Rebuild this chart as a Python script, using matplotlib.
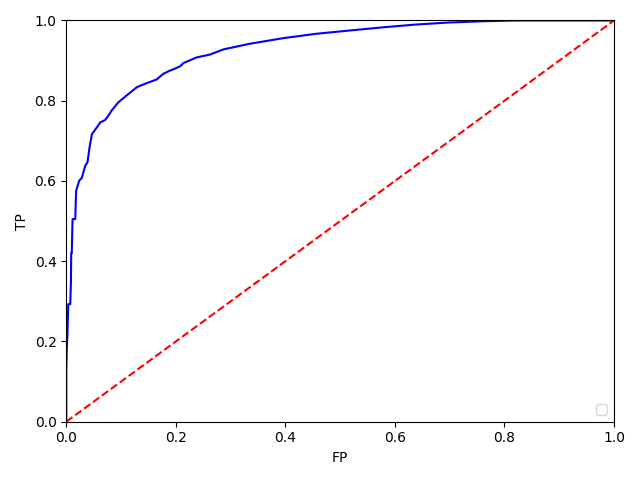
import matplotlib
matplotlib.use("Agg")
import matplotlib.pyplot as plt

fpr = [0.0, 0.0, 0.001, 0.002, 0.0036, 0.0073, 0.0085, 0.0090, 0.0100, 0.0115,
       0.0150, 0.0164, 0.0180, 0.0237, 0.0285, 0.0346, 0.0388, 0.0425, 0.0468,
       0.0497, 0.056, 0.062, 0.071, 0.077, 0.083, 0.095, 0.11, 0.129, 0.147,
       0.165, 0.171, 0.177, 0.189, 0.195, 0.208, 0.214, 0.238, 0.262, 0.287,
       0.335, 0.396, 0.457, 0.517, 0.578, 0.639, 0.699, 0.76, 0.82, 0.87, 1.0]
tpr = [0.0, 0.13, 0.185, 0.214, 0.293, 0.293, 0.35, 0.42, 0.42, 0.505,
       0.505, 0.505, 0.576, 0.601, 0.608, 0.638, 0.647, 0.684, 0.717,
       0.722, 0.734, 0.746, 0.752, 0.763, 0.776, 0.796, 0.813, 0.834, 0.844,
       0.853, 0.860, 0.867, 0.875, 0.878, 0.886, 0.894, 0.908, 0.915, 0.928,
       0.942, 0.956, 0.967, 0.975, 0.983, 0.990, 0.995, 0.998, 1.0, 1.0, 1.0]

fig, ax = plt.subplots(figsize=(6.4, 4.8), dpi=100)
ax.plot(fpr, tpr, 'b')
ax.plot([0, 1], [0, 1], 'r--')
ax.legend(loc='lower right')
ax.set_xlim(0, 1)
ax.set_ylim(0, 1)
ax.set_xlabel('FP')
ax.set_ylabel('TP')
fig.tight_layout()
fig.savefig('out.png')
